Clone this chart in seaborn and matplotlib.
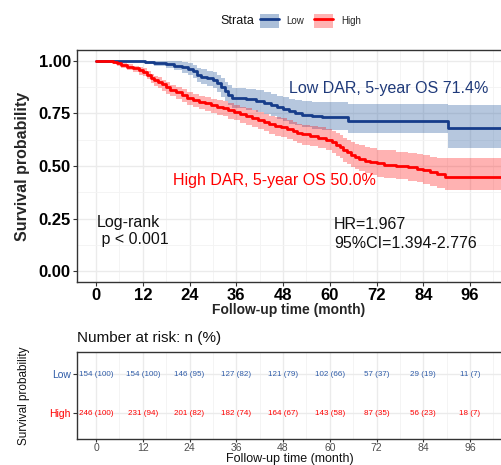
import numpy as np
import pandas as pd
import matplotlib
matplotlib.use("Agg")
import matplotlib.pyplot as plt
import seaborn as sns
from matplotlib.patches import Patch
from matplotlib.lines import Line2D

# ---------------- data ----------------
strata = ["Low", "High"]

low_time = [0, 12.5, 15, 18, 20, 22, 23.5, 25, 26, 27, 28.5, 30, 31, 32, 33, 34, 34.8, 38.5, 41, 43,
            45, 46.5, 48, 49.5, 51, 53, 55.5, 58, 64.8, 90.4, 106]
low_surv = [1.0, 0.995, 0.99, 0.985, 0.978, 0.97, 0.962, 0.95, 0.935, 0.925, 0.918, 0.91, 0.895, 0.875,
            0.855, 0.838, 0.824, 0.818, 0.81, 0.80, 0.79, 0.78, 0.77, 0.76, 0.752, 0.745, 0.738, 0.733,
            0.714, 0.681, 0.681]
low_upper = [1.0, 1.0, 1.0, 1.0, 0.998, 0.994, 0.989, 0.98, 0.968, 0.96, 0.954, 0.948, 0.935, 0.918,
             0.9, 0.885, 0.872, 0.866, 0.86, 0.851, 0.842, 0.833, 0.826, 0.82, 0.815, 0.81, 0.806, 0.803,
             0.795, 0.79, 0.79]
low_lower = [1.0, 0.985, 0.975, 0.965, 0.955, 0.944, 0.933, 0.918, 0.9, 0.888, 0.88, 0.87, 0.853, 0.83,
             0.808, 0.79, 0.775, 0.768, 0.758, 0.747, 0.736, 0.724, 0.713, 0.702, 0.693, 0.685, 0.677,
             0.671, 0.655, 0.586, 0.586]

high_time = [0, 4.4, 5.5, 6.5, 8, 9.5, 11, 12, 13, 14, 15, 16, 17, 18, 19, 20.5, 22, 23.4, 25, 26.5,
             28, 29.5, 31, 32.5, 34, 35.5, 37, 38.5, 40, 41.5, 43, 44.5, 46, 47.5, 49, 50.5, 51.6, 53,
             55, 57, 59, 60.5, 61.5, 62.6, 63.5, 64.5, 65.5, 66.5, 67.5, 69, 70.4, 72, 74, 77, 80, 82.4,
             84, 85.8, 87.5, 89.7, 106]
high_surv = [1.0, 0.996, 0.988, 0.98, 0.972, 0.965, 0.955, 0.948, 0.935, 0.92, 0.908, 0.9, 0.888, 0.875,
             0.862, 0.85, 0.838, 0.824, 0.815, 0.805, 0.798, 0.79, 0.782, 0.775, 0.765, 0.757, 0.748,
             0.738, 0.728, 0.72, 0.71, 0.698, 0.69, 0.685, 0.676, 0.665, 0.657, 0.65, 0.642, 0.635,
             0.625, 0.614, 0.60, 0.59, 0.575, 0.566, 0.553, 0.545, 0.535, 0.525, 0.519, 0.512, 0.507,
             0.50, 0.494, 0.488, 0.48, 0.471, 0.462, 0.448, 0.448]
high_upper = [1.0, 1.0, 0.996, 0.99, 0.984, 0.978, 0.97, 0.964, 0.952, 0.94, 0.929, 0.922, 0.911, 0.899,
              0.887, 0.876, 0.865, 0.852, 0.844, 0.835, 0.828, 0.821, 0.814, 0.808, 0.799, 0.791, 0.783,
              0.774, 0.765, 0.758, 0.749, 0.738, 0.731, 0.727, 0.719, 0.709, 0.702, 0.696, 0.69, 0.684,
              0.676, 0.668, 0.656, 0.647, 0.634, 0.626, 0.614, 0.607, 0.598, 0.589, 0.584, 0.578, 0.574,
              0.567, 0.562, 0.557, 0.552, 0.545, 0.54, 0.538, 0.538]
high_lower = [1.0, 0.988, 0.975, 0.965, 0.955, 0.946, 0.934, 0.926, 0.912, 0.895, 0.881, 0.872, 0.859,
              0.845, 0.831, 0.818, 0.805, 0.79, 0.78, 0.77, 0.762, 0.753, 0.744, 0.736, 0.725, 0.717,
              0.707, 0.696, 0.686, 0.677, 0.666, 0.653, 0.645, 0.64, 0.63, 0.618, 0.61, 0.602, 0.593,
              0.585, 0.574, 0.562, 0.547, 0.536, 0.52, 0.51, 0.496, 0.487, 0.476, 0.465, 0.458, 0.45,
              0.445, 0.437, 0.43, 0.423, 0.414, 0.404, 0.394, 0.386, 0.386]

risk_times = [0, 12, 24, 36, 48, 60, 72, 84, 96]
risk_low_n = [154, 154, 146, 127, 121, 102, 57, 29, 11]
risk_low_pct = [100, 100, 95, 82, 79, 66, 37, 19, 7]
risk_high_n = [246, 231, 201, 182, 164, 143, 87, 56, 18]
risk_high_pct = [100, 94, 82, 74, 67, 58, 35, 23, 7]

y_ticks = [0.00, 0.25, 0.50, 0.75, 1.00]
y_tick_labels = ["0.00", "0.25", "0.50", "0.75", "1.00"]

# ---------------- style ----------------
sns.set_theme(style="white")
plt.rcParams["font.family"] = ["Liberation Sans", "DejaVu Sans"]

W, H = 501, 465
fig = plt.figure(figsize=(W / 100, H / 100), dpi=100)

line_blue = "#163C8A"
fill_blue = "#2E5FA1"
txt_blue = "#1F3A7A"
risk_blue = "#2F5CA8"
red = "#FF0000"
grid_c = "#EBEBEB"

def fx(px):
    return px / W

def fy(py):
    return 1 - py / H

xlim = (-4.88, 103.95)

# ---------------- main KM plot ----------------
ax = fig.add_axes([fx(77), fy(282), 1 - fx(77), (282 - 50) / H])

df = pd.concat([
    pd.DataFrame({"time": low_time, "surv": low_surv, "strata": "Low"}),
    pd.DataFrame({"time": high_time, "surv": high_surv, "strata": "High"}),
])

ax.fill_between(low_time, low_lower, low_upper, step="post", color=fill_blue, alpha=0.35, lw=0, zorder=2)
ax.fill_between(high_time, high_lower, high_upper, step="post", color=red, alpha=0.30, lw=0, zorder=2)

sns.lineplot(data=df, x="time", y="surv", hue="strata", hue_order=strata,
             palette={"Low": line_blue, "High": red}, estimator=None, sort=False,
             drawstyle="steps-post", linewidth=2.0, legend=False, ax=ax, zorder=3)

ax.set_xlim(*xlim)
ax.set_ylim(-0.052, 1.052)
ax.set_xticks(risk_times)
ax.set_xticks([t + 6 for t in risk_times], minor=True)
ax.set_yticks(y_ticks)
ax.set_yticklabels(y_tick_labels)
ax.set_yticks([0.125, 0.375, 0.625, 0.875], minor=True)
ax.grid(True, which="major", color=grid_c, lw=1.0, zorder=0)
ax.grid(True, which="minor", color="#F3F3F3", lw=0.6, zorder=0)
ax.set_axisbelow(True)
for s in ["left", "bottom", "top"]:
    ax.spines[s].set_color("#333333")
    ax.spines[s].set_linewidth(1.0)
ax.spines["right"].set_visible(False)
ax.tick_params(axis="both", which="major", length=3, width=0.8, color="#333333",
               labelsize=12, labelcolor="black", pad=1.5, bottom=True, left=True)
ax.tick_params(axis="both", which="minor", length=0)
for lbl in ax.get_xticklabels() + ax.get_yticklabels():
    lbl.set_fontweight("bold")
ax.set_xlabel("Follow-up time (month)", fontsize=10, fontweight="bold", labelpad=0)
ax.set_ylabel("Survival probability", fontsize=11.5, fontweight="bold", labelpad=6)

ax.text(49.5, 0.871, "Low DAR, 5-year OS 71.4%", color=txt_blue, fontsize=11.5, va="center", ha="left")
ax.text(19.8, 0.433, "High DAR, 5-year OS 50.0%", color=red, fontsize=11.5, va="center", ha="left")
ax.text(0.2, 0.229, "Log-rank", color="#111111", fontsize=11.5, va="center", ha="left")
ax.text(0.2, 0.152, " p < 0.001", color="#111111", fontsize=11.5, va="center", ha="left")
ax.text(61.1, 0.224, "HR=1.967", color="#111111", fontsize=11.5, va="center", ha="left")
ax.text(61.1, 0.133, "95%CI=1.394-2.776", color="#111111", fontsize=11.5, va="center", ha="left")

# ---------------- legend ----------------
fig.text(fx(237), fy(21), "Strata", fontsize=9, ha="center", va="center", color="#111111")
h_low = (Patch(facecolor=fill_blue, alpha=0.4, edgecolor="none"), Line2D([], [], color=line_blue, lw=2))
h_high = (Patch(facecolor=red, alpha=0.3, edgecolor="none"), Line2D([], [], color=red, lw=2))
fig.legend(handles=[h_low, h_high], labels=["Low", "High"], ncol=2, loc="center left",
           bbox_to_anchor=(fx(260), fy(21)), frameon=False, fontsize=7,
           handlelength=1.95, handleheight=1.95, handletextpad=0.8, columnspacing=1.0,
           borderpad=0, borderaxespad=0)

# ---------------- risk table ----------------
rax = fig.add_axes([fx(77), fy(439), 1 - fx(77), (439 - 352) / H])
rax.set_xlim(*xlim)
rax.set_ylim(0.333, 2.565)
rax.set_xticks(risk_times)
rax.set_xticks([t + 6 for t in risk_times], minor=True)
rax.set_yticks([2, 1])
rax.set_yticklabels(["Low", "High"])
rax.grid(True, which="major", color=grid_c, lw=1.0, zorder=0)
rax.grid(True, which="minor", axis="x", color="#F3F3F3", lw=0.6, zorder=0)
for s in ["left", "bottom", "top"]:
    rax.spines[s].set_color("#333333")
    rax.spines[s].set_linewidth(1.0)
rax.spines["right"].set_visible(False)
rax.tick_params(axis="both", which="major", length=3, width=0.8, color="#333333",
                labelsize=7.5, pad=1.5, bottom=True, left=True)
rax.tick_params(axis="x", labelcolor="#4D4D4D", labelsize=7.5, pad=0.5, length=2.5)
rax.tick_params(axis="both", which="minor", length=0)
ytl = rax.get_yticklabels()
ytl[0].set_color(risk_blue)
ytl[1].set_color(red)
for t, n, p in zip(risk_times, risk_low_n, risk_low_pct):
    rax.text(t, 2, f"{n} ({p})", color=risk_blue, fontsize=5.8, ha="center", va="center")
for t, n, p in zip(risk_times, risk_high_n, risk_high_pct):
    rax.text(t, 1, f"{n} ({p})", color=red, fontsize=5.8, ha="center", va="center")
rax.set_xlabel("Follow-up time (month)", fontsize=9, color="#111111")
rax.xaxis.set_label_coords(0.502, (439 - 452.5) / 87)
rax.set_ylabel("Survival probability", fontsize=8.5, labelpad=14, color="#111111")
rax.set_title("Number at risk: n (%)", fontsize=11, loc="left", pad=7, color="#111111")

fig.savefig("out.png", dpi=100, facecolor="white")
